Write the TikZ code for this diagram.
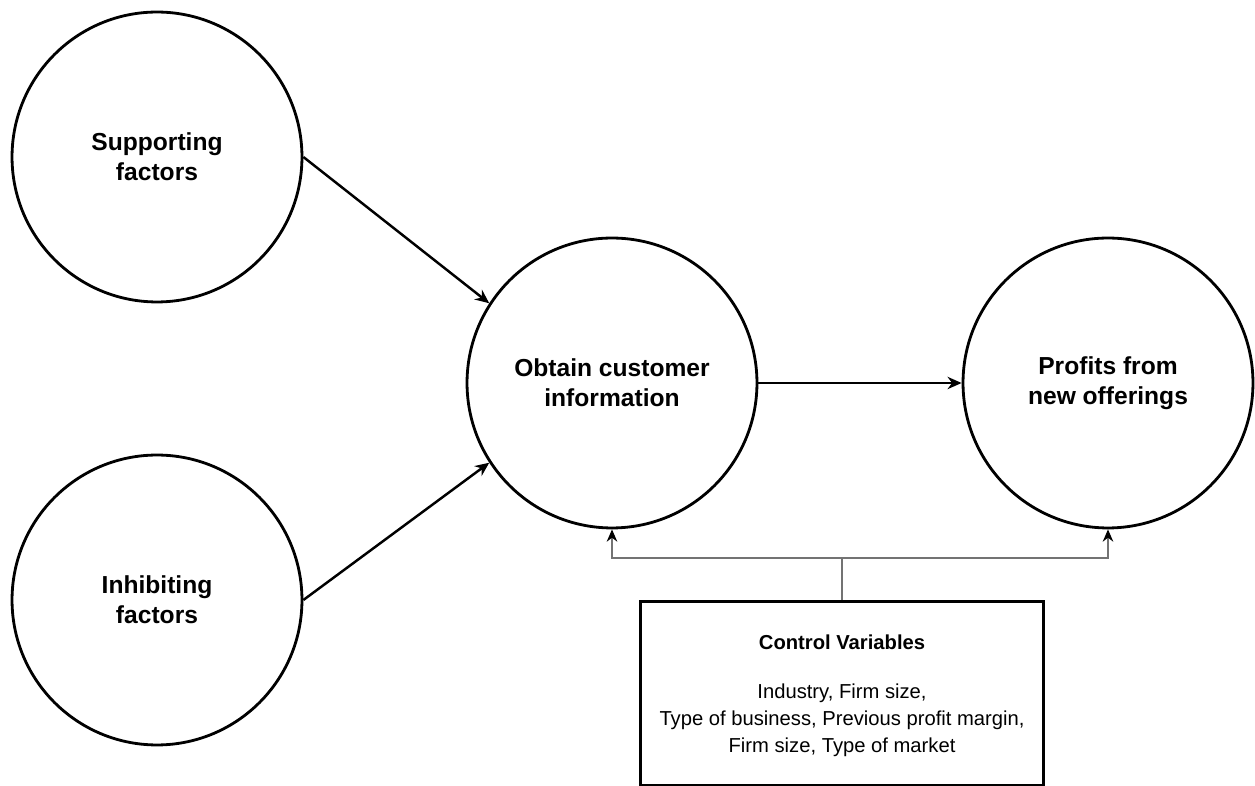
\documentclass[tikz,border=0pt]{standalone}
\usepackage{fontspec}
\setmainfont{Liberation Sans}
\usetikzlibrary{arrows.meta}
\begin{document}
\begin{tikzpicture}[x=0.02cm,y=-0.02cm,
  factor/.style={circle,draw=black,line width=1.6pt,minimum size=5.8cm,inner sep=0pt,
    align=center,font=\fontsize{14}{17}\selectfont\bfseries},
  flow/.style={line width=1.4pt,-{Stealth[length=8pt,width=7pt]}},
  ctrl/.style={draw=black!55,line width=0.9pt},
  ctrlarrow/.style={ctrl,-{Stealth[length=7pt,width=6pt,color=black]}},
  ctrlbox/.style={draw=black,line width=1.7pt,minimum width=8.08cm,minimum height=3.68cm,
    inner sep=0pt,align=center,font=\fontsize{11.5}{15.4}\selectfont}]
\useasboundingbox (0,0) rectangle (1255,786);
\node[factor] (s) at (157,157) {Supporting\\factors};
\node[factor] (i) at (157,600) {Inhibiting\\factors};
\node[factor] (o) at (612,383) {Obtain customer\\information};
\node[factor] (p) at (1108,383) {Profits from\\new offerings};
\node[ctrlbox,anchor=north] (b) at (842,600) {};
\node[font=\fontsize{11.5}{15.4}\selectfont\bfseries] (bt) at (842,642) {Control Variables};
\node[align=center,font=\fontsize{11.5}{15.4}\selectfont] (bl) at (842,720)
  {Industry, Firm size,\\Type of business, Previous profit margin,\\Firm size, Type of market};
\draw[flow] (s.east) -- (o.147);
\draw[flow] (i.east) -- (o.213);
\draw[flow] (o.east) -- (p.west);
\coordinate (j) at (842,558);
\draw[ctrl] (b.north) -- (j);
\draw[ctrlarrow] (j) -| (o.south);
\draw[ctrlarrow] (j) -| (p.south);
\end{tikzpicture}
\end{document}
